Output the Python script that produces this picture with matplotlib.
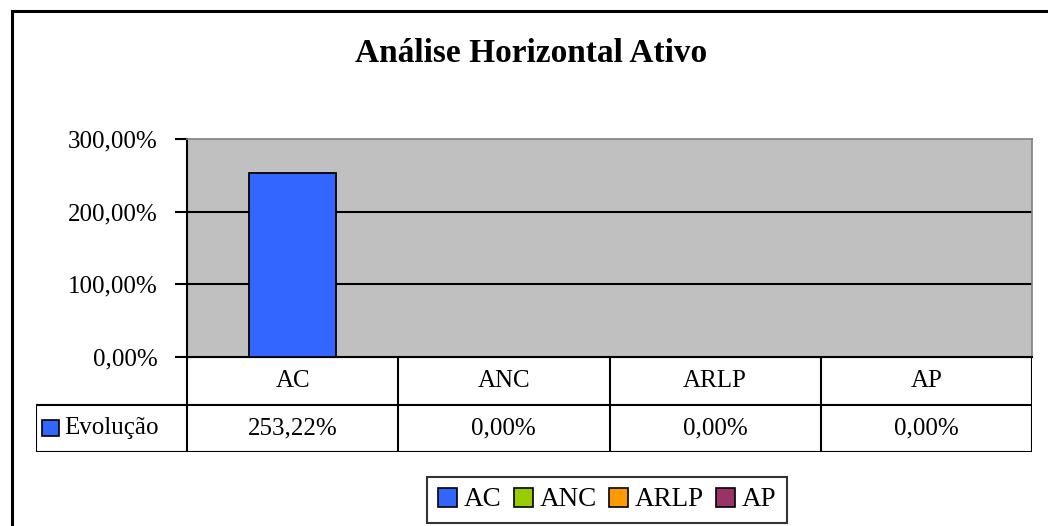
import matplotlib
matplotlib.use("Agg")
import matplotlib.pyplot as plt
from matplotlib.patches import Rectangle, Patch

plt.rcParams["font.family"] = ["Liberation Serif", "DejaVu Serif"]

# data
title = "Análise Horizontal Ativo"
series_name = "Evolução"
categories = ["AC", "ANC", "ARLP", "AP"]
values = [253.22, 0.00, 0.00, 0.00]
colors = ["#3366FF", "#99CC00", "#FF9900", "#993366"]
yticks = [0, 100, 200, 300]

W, H = 1048, 526


def fx(px):
    return px / W


def fy(py):
    return 1 - py / H


def pct(v):
    return f"{v:.2f}".replace(".", ",") + "%"


fig = plt.figure(figsize=(W / 100, H / 100), dpi=100)

# outer chart frame (runs off the right and bottom edge)
fig.add_artist(Rectangle((fx(12), fy(560)), fx(1100), fy(11) - fy(560),
                         transform=fig.transFigure, fill=False,
                         edgecolor="black", lw=2.2, clip_on=False))

fig.text(fx(531), fy(53), title, ha="center", va="center",
         fontsize=24, fontweight="bold")

# plot area
pl, pr, pt, pb = 187, 1032, 139, 357
ax = fig.add_axes([fx(pl), fy(pb), fx(pr - pl), fy(pt) - fy(pb)])
ax.set_facecolor("#C0C0C0")
xs = list(range(len(categories)))
ax.set_xlim(-0.5, len(categories) - 0.5)
ax.set_ylim(0, 300)
ax.bar(xs, values, width=0.41, color=colors[0], edgecolor="black",
       lw=1.3, zorder=3)
for y in yticks[1:-1]:
    ax.axhline(y, color="black", lw=1.5, zorder=2)
ax.set_yticks(yticks)
ax.set_yticklabels([pct(v) for v in yticks], fontsize=18)
ax.tick_params(axis="y", direction="out", length=9, width=1.5, pad=12)
ax.set_xticks([])
for s in ["top", "right"]:
    ax.spines[s].set_color("#808080")
    ax.spines[s].set_linewidth(1.2)
ax.spines["left"].set_linewidth(1.5)
ax.spines["bottom"].set_linewidth(1.5)

# data table below the plot
tl, tr, tt, tm, tb = 36, 1032, 357, 406, 452
cat_w = (pr - pl) / len(categories)
lab_w = (pl - tl) / cat_w
tax = fig.add_axes([fx(tl), fy(tb), fx(tr - tl), fy(tt) - fy(tb)])
tax.set_xlim(-0.5 - lab_w, len(categories) - 0.5)
tax.set_ylim(0, 2)
tax.axis("off")
lk = dict(color="black", lw=1.5, solid_capstyle="projecting")
tax.plot([-0.5, len(categories) - 0.5], [2, 2], **lk)
tax.plot([-0.5 - lab_w, len(categories) - 0.5], [1, 1], **lk)
tax.plot([-0.5 - lab_w, len(categories) - 0.5], [0, 0], **lk)
tax.plot([-0.5 - lab_w, -0.5 - lab_w], [0, 1], **lk)
for i in range(len(categories) + 1):
    tax.plot([i - 0.5, i - 0.5], [0, 2], **lk)
for i, (c, v) in enumerate(zip(categories, values)):
    tax.text(i, 1.5, c, ha="center", va="center", fontsize=18)
    tax.text(i, 0.5, pct(v), ha="center", va="center", fontsize=18)
key_w = 17 / cat_w
tax.add_patch(Rectangle((-0.5 - lab_w + 6 / cat_w, 0.5 - 0.17), key_w, 0.34,
                        facecolor=colors[0], edgecolor="black", lw=1.2))
tax.text(-0.5 - lab_w + 28 / cat_w, 0.5, series_name, ha="left",
         va="center", fontsize=18)

# legend
handles = [Patch(facecolor=c, edgecolor="black", lw=1.2) for c in colors]
leg = fig.legend(handles, categories, loc="center",
                 bbox_to_anchor=(fx(607), fy(500)), ncol=4, fontsize=19.5,
                 frameon=True, fancybox=False, handlelength=0.7,
                 handleheight=0.7, handletextpad=0.25, columnspacing=0.45,
                 borderpad=0.4, borderaxespad=0)
leg.get_frame().set_edgecolor("black")
leg.get_frame().set_linewidth(1.5)

fig.savefig("out.png", dpi=100)
